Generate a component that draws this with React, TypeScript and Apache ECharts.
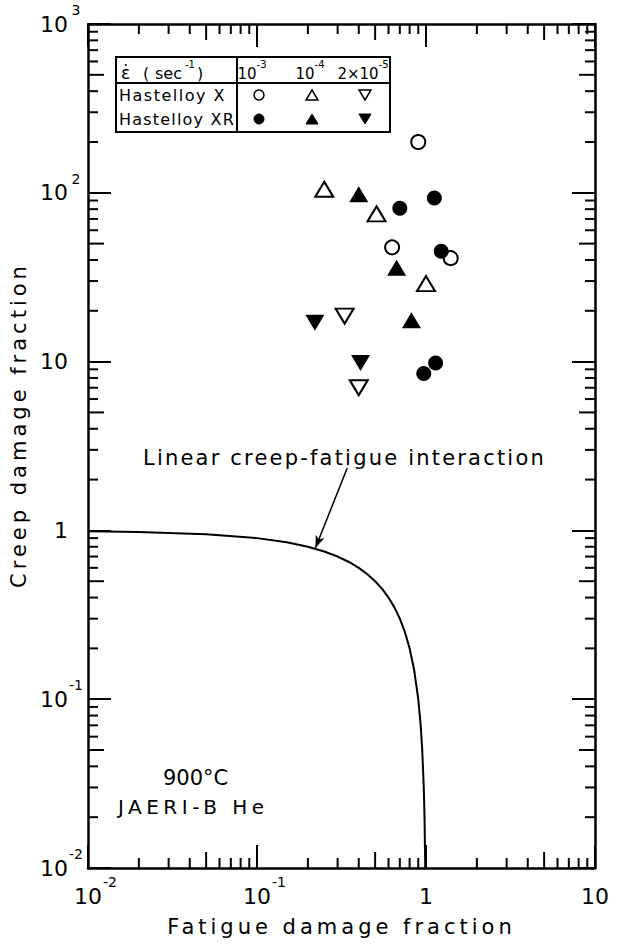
import React, { useEffect, useRef } from "react";
import * as echarts from "echarts";

// ---- data ----
// Hastelloy X (open markers) and Hastelloy XR (filled markers), by strain rate
const xStrain1e3: number[][] = [[0.9, 200], [0.63, 47.5], [1.4, 41]];
const xrStrain1e3: number[][] = [[0.7, 81], [1.12, 93], [1.23, 45], [1.14, 9.8], [0.97, 8.5]];
const xStrain1e4: number[][] = [[0.25, 105], [0.51, 75], [1.0, 29]];
const xrStrain1e4: number[][] = [[0.4, 98], [0.67, 36], [0.82, 17.6]];
const xStrain2e5: number[][] = [[0.33, 18.6], [0.4, 7.0]];
const xrStrain2e5: number[][] = [[0.22, 17], [0.41, 9.8]];

// linear creep-fatigue interaction line
const interactionX = [0.01, 0.02, 0.05, 0.1, 0.15, 0.2, 0.25, 0.3, 0.35, 0.4, 0.45, 0.5, 0.55, 0.6, 0.65, 0.7, 0.75, 0.8, 0.85, 0.9, 0.93, 0.95, 0.97, 0.98, 0.99];
const interactionY = [0.99, 0.98, 0.95, 0.9, 0.85, 0.8, 0.75, 0.7, 0.65, 0.6, 0.55, 0.5, 0.45, 0.4, 0.35, 0.3, 0.25, 0.2, 0.15, 0.1, 0.07, 0.05, 0.03, 0.02, 0.01];

// arrow annotation: from label to curve
const arrowFrom = [0.342, 2.34];
const arrowTo = [0.222, 0.79];

// axes
const X_MIN = 0.01, X_MAX = 10;
const Y_MIN = 0.01, Y_MAX = 1000;
const xDecadeStarts = [0.01, 0.1, 1];
const yDecadeStarts = [0.01, 0.1, 1, 10, 100];
const minorMultipliers = [2, 3, 4, 5, 6, 7, 8, 9];

const xTitle = "Fatigue damage fraction";
const yTitle = "Creep damage fraction";
const curveLabel = "Linear creep-fatigue interaction";
const tempLabel = "900°C";
const envLabel = "JAERI-B He";
const legendRows = ["Hastelloy X", "Hastelloy XR"];
const legendHeads = ["10|-3", "10|-4", "2×10|-5"];

const FONT = "DejaVu Sans";
const BLACK = "#000";

// lettering in the original is widely spaced
const LETTER_SPACING: Record<string, number> = {
  [yTitle]: 4,
  [xTitle]: 4,
  [curveLabel]: 2.2,
  [envLabel]: 4.5,
  [legendRows[0]]: 1.5,
  [legendRows[1]]: 1.2,
};

const minorX = xDecadeStarts.flatMap((d) => minorMultipliers.map((m) => +(m * d).toPrecision(3)));
const minorY = yDecadeStarts.flatMap((d) => minorMultipliers.map((m) => +(m * d).toPrecision(3)));

function expOf(v: number) {
  return Math.round(Math.log10(v));
}

function xLabel(v: number) {
  const e = expOf(v);
  if (e === 0) return "{p| }{b|1}{s| }";
  if (e === 1) return "{p| }{b|10}{s| }";
  return `{p| }{b|10}{s|${e}}`;
}
function yLabel(v: number) {
  const e = expOf(v);
  if (e === 0) return "{b|1}{s| }";
  if (e === 1) return "{b|10}{s| }";
  return `{b|10}{s|${e}}`;
}

const tickRich = {
  b: { fontFamily: FONT, fontSize: 22, color: BLACK, lineHeight: 32, verticalAlign: "bottom" },
  s: { fontFamily: FONT, fontSize: 14, color: BLACK, lineHeight: 14, verticalAlign: "top", width: 16, align: "left" },
  p: { fontFamily: FONT, fontSize: 14, color: BLACK, lineHeight: 14, verticalAlign: "top", width: 16 },
};

function minorTickSeries(kind: "x" | "y") {
  const data = kind === "x" ? minorX.map((v) => [v, 1]) : minorY.map((v) => [1, v]);
  return {
    type: "custom",
    silent: true,
    clip: false,
    z: 5,
    data,
    renderItem: (params: any, api: any) => {
      const v = kind === "x" ? api.value(0) : api.value(1);
      const mant = Math.round(v / Math.pow(10, Math.floor(Math.log10(v) + 1e-9)));
      const len = mant === 5 ? 16 : 10;
      const st = { stroke: BLACK, lineWidth: 2 };
      if (kind === "x") {
        const b = api.coord([v, Y_MIN]);
        const t = api.coord([v, Y_MAX]);
        return {
          type: "group",
          children: [
            { type: "line", shape: { x1: b[0], y1: b[1], x2: b[0], y2: b[1] - len }, style: st },
            { type: "line", shape: { x1: t[0], y1: t[1], x2: t[0], y2: t[1] + len }, style: st },
          ],
        };
      }
      const l = api.coord([X_MIN, v]);
      const r = api.coord([X_MAX, v]);
      return {
        type: "group",
        children: [
          { type: "line", shape: { x1: l[0], y1: l[1], x2: l[0] + len, y2: l[1] }, style: st },
          { type: "line", shape: { x1: r[0], y1: r[1], x2: r[0] - len, y2: r[1] }, style: st },
        ],
      };
    },
  };
}

function scatter(name: string, data: number[][], symbol: string, filled: boolean, size: number | number[], rotate = 0) {
  return {
    type: "scatter",
    name,
    data,
    symbol,
    symbolSize: size,
    symbolRotate: rotate,
    z: 10,
    itemStyle: {
      color: filled ? BLACK : "#fff",
      borderColor: BLACK,
      borderWidth: filled ? 0 : 2,
      opacity: 1,
    },
  };
}

// legend table geometry (pixels)
const TBL = { x: 116, y: 57, w: 274, h: 75, headerH: 26, colX: 237 };
const legendCols = [259, 312, 365];
const legendRowY = [95, 119];

function triPoints(cx: number, cy: number, w: number, h: number, down: boolean) {
  if (down) return [[cx - w / 2, cy - h / 2], [cx + w / 2, cy - h / 2], [cx, cy + h / 2]];
  return [[cx - w / 2, cy + h / 2], [cx + w / 2, cy + h / 2], [cx, cy - h / 2]];
}

function legendGraphics() {
  const g: any[] = [];
  g.push({ type: "rect", z: 100, shape: { x: TBL.x, y: TBL.y, width: TBL.w, height: TBL.h }, style: { fill: "#fff", stroke: BLACK, lineWidth: 2 } });
  g.push({ type: "line", z: 101, shape: { x1: TBL.x, y1: TBL.y + TBL.headerH, x2: TBL.x + TBL.w, y2: TBL.y + TBL.headerH }, style: { stroke: BLACK, lineWidth: 2 } });
  g.push({ type: "line", z: 101, shape: { x1: TBL.colX, y1: TBL.y, x2: TBL.colX, y2: TBL.y + TBL.h }, style: { stroke: BLACK, lineWidth: 2 } });
  const hr = {
    a: { fontFamily: FONT, fontSize: 16, color: BLACK, lineHeight: 22, verticalAlign: "bottom" },
    o: { fontFamily: FONT, fontSize: 16, color: BLACK, lineHeight: 22, verticalAlign: "bottom", width: 12, align: "left" },
    w: { fontFamily: FONT, fontSize: 16, color: BLACK, lineHeight: 22, verticalAlign: "bottom", width: 30, align: "left" },
    e: { fontFamily: FONT, fontSize: 17, color: BLACK, lineHeight: 22, verticalAlign: "bottom", width: 22, align: "left" },
    u: { fontFamily: FONT, fontSize: 10, color: BLACK, lineHeight: 10, verticalAlign: "top" },
    v: { fontFamily: FONT, fontSize: 10, color: BLACK, lineHeight: 10, verticalAlign: "top", width: 12, align: "left" },
    h: { fontFamily: FONT, fontSize: 15, color: BLACK, lineHeight: 22, verticalAlign: "bottom" },
  };
  g.push({ type: "text", z: 102, x: 121, y: 70, style: { text: "{e|ε̇}{o|(}{w|sec}{v|-1}{a|)}", rich: hr, verticalAlign: "middle", align: "left" } });
  const headX = [252, 310, 363];
  legendHeads.forEach((t, i) => {
    const [base, sup] = t.split("|");
    g.push({ type: "text", z: 102, x: headX[i], y: 70, style: { text: `{h|${base}}{u|${sup}}`, rich: hr, verticalAlign: "middle", align: "center" } });
  });
  legendRows.forEach((t, i) =>
    g.push({ type: "text", z: 102, x: 119, y: legendRowY[i], style: { text: t, fontFamily: FONT, fontSize: 16, fill: BLACK, verticalAlign: "middle", align: "left" } })
  );
  legendRowY.forEach((cy, i) => {
    const filled = i === 1;
    const st = filled ? { fill: BLACK, stroke: BLACK, lineWidth: 1 } : { fill: "#fff", stroke: BLACK, lineWidth: 1.5 };
    g.push({ type: "circle", z: 102, shape: { cx: legendCols[0], cy, r: 5 }, style: st });
    g.push({ type: "polygon", z: 102, shape: { points: triPoints(legendCols[1], cy, 12, 10, false) }, style: st });
    g.push({ type: "polygon", z: 102, shape: { points: triPoints(legendCols[2], cy, 12, 10, true) }, style: st });
  });
  return g;
}

export default function App() {
  const ref = useRef<HTMLDivElement>(null);
  useEffect(() => {
    if (!ref.current) return;
    const el = ref.current;
    const chart = echarts.init(el, undefined, { renderer: "svg" });
    const axisLine = { show: true, onZero: false, lineStyle: { color: BLACK, width: 2.5 } };
    const axisTick = { show: true, inside: true, length: 23, lineStyle: { color: BLACK, width: 2 } };
    const curve = interactionX.map((x, i) => [x, interactionY[i]]);
    chart.setOption({
      animation: false,
      backgroundColor: "#fff",
      grid: { left: 88, right: 12, top: 24, bottom: 80, containLabel: false },
      xAxis: [
        {
          type: "log", logBase: 10, min: X_MIN, max: X_MAX, position: "bottom",
          axisLine, axisTick, splitLine: { show: false }, minorTick: { show: false },
          axisLabel: { formatter: xLabel, margin: 7, rich: tickRich },
          name: xTitle, nameLocation: "middle", nameGap: 48,
          nameTextStyle: { fontFamily: FONT, fontSize: 21, color: BLACK },
        },
        {
          type: "log", logBase: 10, min: X_MIN, max: X_MAX, position: "top",
          axisLine, axisTick, splitLine: { show: false }, axisLabel: { show: false },
        },
      ],
      yAxis: [
        {
          type: "log", logBase: 10, min: Y_MIN, max: Y_MAX, position: "left",
          axisLine, axisTick, splitLine: { show: false }, minorTick: { show: false },
          axisLabel: { formatter: yLabel, margin: 4, rich: tickRich, padding: [0, 0, 10, 0] },
          name: yTitle, nameLocation: "middle", nameGap: 57,
          nameTextStyle: { fontFamily: FONT, fontSize: 21, color: BLACK, padding: [0, 0, 0, 42] },
        },
        {
          type: "log", logBase: 10, min: Y_MIN, max: Y_MAX, position: "right",
          axisLine, axisTick, splitLine: { show: false }, axisLabel: { show: false },
        },
      ],
      series: [
        {
          type: "line",
          data: curve,
          showSymbol: false,
          symbol: "none",
          z: 6,
          lineStyle: { color: BLACK, width: 2 },
          markLine: {
            silent: true,
            symbol: ["none", "arrow"],
            symbolSize: [7, 12],
            label: { show: false },
            lineStyle: { color: BLACK, width: 1.5, type: "solid" },
            data: [[{ coord: arrowFrom }, { coord: arrowTo }]],
          },
        },
        minorTickSeries("x"),
        minorTickSeries("y"),
        scatter("Hastelloy X 10^-3", xStrain1e3, "circle", false, 14),
        scatter("Hastelloy XR 10^-3", xrStrain1e3, "circle", true, 15),
        scatter("Hastelloy X 10^-4", xStrain1e4, "triangle", false, [18, 15]),
        scatter("Hastelloy XR 10^-4", xrStrain1e4, "triangle", true, [19, 16]),
        scatter("Hastelloy X 2x10^-5", xStrain2e5, "triangle", false, [18, 15], 180),
        scatter("Hastelloy XR 2x10^-5", xrStrain2e5, "triangle", true, [19, 16], 180),
      ],
      graphic: [
        ...legendGraphics(),
        { type: "text", z: 50, x: 143, y: 458, style: { text: curveLabel, fontFamily: FONT, fontSize: 21, fill: BLACK, verticalAlign: "middle", align: "left" } },
        { type: "text", z: 50, x: 163, y: 778, style: { text: tempLabel, fontFamily: FONT, fontSize: 21, fill: BLACK, verticalAlign: "middle", align: "left" } },
        { type: "text", z: 50, x: 118, y: 807, style: { text: envLabel, fontFamily: FONT, fontSize: 20, fill: BLACK, verticalAlign: "middle", align: "left" } },
      ],
    });
    const applySpacing = () => {
      el.querySelectorAll("text").forEach((t) => {
        const s = LETTER_SPACING[(t.textContent || "").trim()];
        if (s) t.setAttribute("letter-spacing", String(s));
      });
    };
    applySpacing();
    chart.on("finished", applySpacing);
    return () => chart.dispose();
  }, []);
  return <div ref={ref} style={{ position: "absolute", left: 0, top: 0, width: 628, height: 948, background: "#fff" }} />;
}
